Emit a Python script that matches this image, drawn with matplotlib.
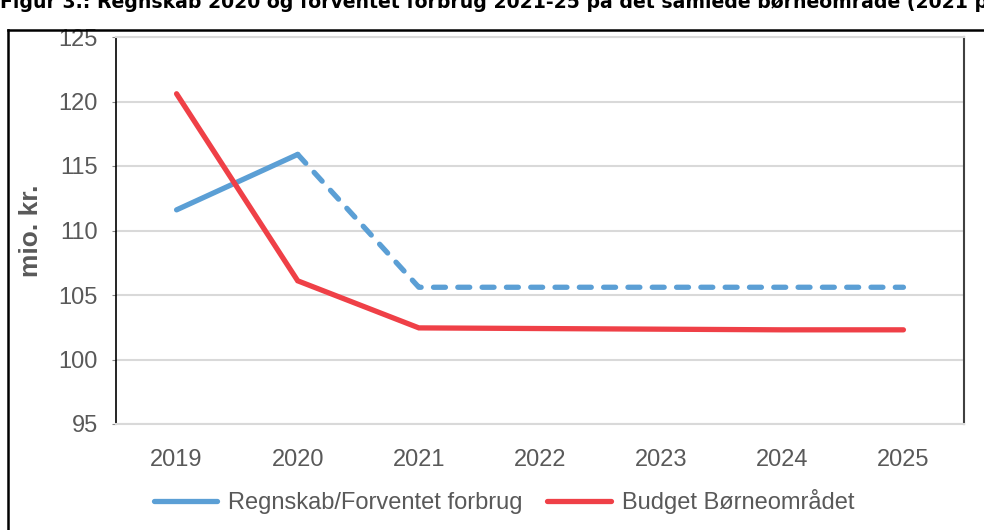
import matplotlib
matplotlib.use("Agg")
import matplotlib.pyplot as plt
from matplotlib.lines import Line2D

plt.rcParams['font.family'] = ['Liberation Sans', 'DejaVu Sans']
plt.rcParams['lines.scale_dashes'] = False

years = ["2019", "2020", "2021", "2022", "2023", "2024", "2025"]
regnskab_actual = [111.6, 115.9]          # 2019-2020 (solid)
forventet = [115.9, 105.6, 105.6, 105.6, 105.6, 105.6]  # 2020-2025 (dashed)
budget = [120.6, 106.1, 102.45, 102.4, 102.35, 102.3, 102.3]
yticks = [95, 100, 105, 110, 115, 120, 125]

title = "Figur 3.: Regnskab 2020 og forventet forbrug 2021-25 på det samlede børneområde (2021 p"

W, H = 984, 530
fig = plt.figure(figsize=(W / 100, H / 100), dpi=100)
ax = fig.add_axes([116 / W, 1 - 424 / H, (964 - 116) / W, (424 - 37) / H])

blue = "#5b9fd5"
red = "#ef4047"
grey_txt = "#595959"

x = list(range(len(years)))
ax.plot(x[:2], regnskab_actual, color=blue, lw=3.8, solid_capstyle='round', zorder=3)
ax.plot(x[1:], forventet, color=blue, lw=3.8, linestyle=(0, (8.6, 8.9)),
        dash_capstyle='round', zorder=3)
ax.plot(x, budget, color=red, lw=3.8, solid_capstyle='round',
        solid_joinstyle='miter', zorder=3)

ax.set_xlim(-0.5, len(years) - 0.5)
ax.set_ylim(95, 125)
ax.set_yticks(yticks)
ax.set_xticks(x)
ax.set_xticklabels(years)
ax.grid(axis='y', color="#d9d9d9", lw=1.5, zorder=0)
ax.set_axisbelow(True)

for s in ['top', 'bottom']:
    ax.spines[s].set_color("#d9d9d9")
    ax.spines[s].set_linewidth(1.5)
ax.spines['left'].set_color("black")
ax.spines['left'].set_linewidth(1.2)
ax.spines['right'].set_color("#404040")
ax.spines['right'].set_linewidth(1.5)

ax.tick_params(axis='x', length=0, pad=18, labelsize=17, labelcolor=grey_txt)
ax.tick_params(axis='y', length=3, color="#888888", pad=10, labelsize=17, labelcolor=grey_txt)

ax.set_ylabel("mio. kr.", fontsize=19, fontweight='bold', color=grey_txt, labelpad=11)

handles = [Line2D([], [], color=blue, lw=3.8, solid_capstyle='round'),
           Line2D([], [], color=red, lw=3.8, solid_capstyle='round')]
fig.legend(handles, ["Regnskab/Forventet forbrug", "Budget Børneområdet"],
           loc='center', bbox_to_anchor=(504 / W, 1 - 502 / H), ncol=2,
           frameon=False, fontsize=17, labelcolor=grey_txt,
           handlelength=2.7, handletextpad=0.45, columnspacing=1.05)

# title, partially cut off at top (as in the reference)
fig.text(0.0, 1 - 7.5 / H, title, fontsize=13.6, fontweight='bold',
         family='DejaVu Sans', color='black', va='baseline', ha='left')

# outer frame
fig.add_artist(Line2D([8 / W, 1.0], [1 - 30 / H, 1 - 30 / H], transform=fig.transFigure,
                      color='black', lw=1.8))
fig.add_artist(Line2D([8 / W, 8 / W], [0, 1 - 30 / H], transform=fig.transFigure,
                      color='black', lw=1.8))

fig.savefig("out.png", dpi=100)
